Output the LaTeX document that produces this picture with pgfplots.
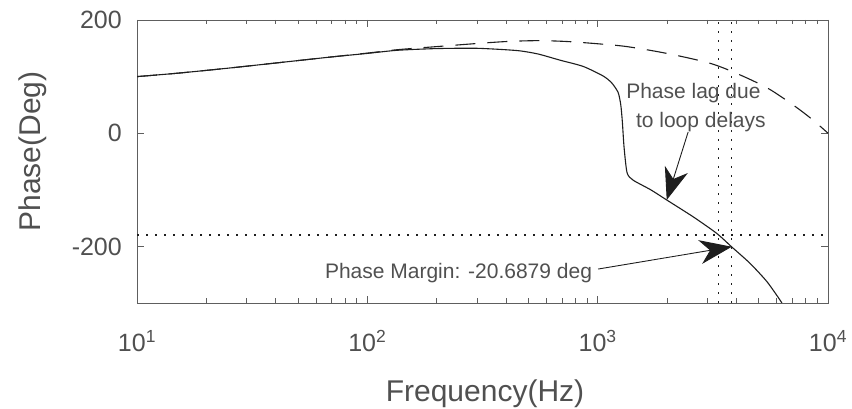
\documentclass[border=0pt]{standalone}
\usepackage{fontspec}
\setmainfont{Liberation Sans}
\usepackage{pgfplots}
\pgfplotsset{compat=1.18}
\usetikzlibrary{arrows.meta}
\definecolor{axgray}{HTML}{5E5E5E}
\definecolor{txtgray}{HTML}{505050}
\definecolor{curve}{HTML}{1E1E1E}

\begin{document}
\begin{tikzpicture}
% fix the page to the reference proportions (1px = 1pt)
\path[use as bounding box] (-137pt,-106pt) rectangle (715pt,303pt);
\begin{axis}[
  at={(0,0)}, anchor=south west,
  scale only axis, width=691pt, height=283pt,
  xmode=log, log basis x=10,
  xmin=10, xmax=10000, ymin=-300, ymax=200,
  xtick={10,100,1000,10000},
  minor xtick={20,30,40,50,60,70,80,90,200,300,400,500,600,700,800,900,2000,3000,4000,5000,6000,7000,8000,9000},
  xticklabels={10\textsuperscript{1},10\textsuperscript{2},10\textsuperscript{3},10\textsuperscript{4}},
  ytick={-200,0,200}, yticklabels={-200,0,200},
  tick align=inside, tick pos=both,
  major tick length=7pt, minor tick length=4.5pt,
  axis line style={axgray, line width=0.9pt},
  tick style={axgray, line width=0.9pt},
  ticklabel style={font=\fontsize{25}{28}\selectfont, text=txtgray},
  xticklabel style={anchor=base, yshift=-49pt},
  yticklabel style={anchor=east, inner sep=0pt, xshift=-15pt},
  xlabel={Frequency(Hz)}, ylabel={Phase(Deg)},
  label style={font=\fontsize{30}{34}\selectfont, text=txtgray},
  xlabel style={at={(axis description cs:0.5036,-0.3498)}, anchor=base},
  ylabel style={at={(axis description cs:-0.1505,0.535)}, anchor=center},
]
% reference lines
\addplot[curve, line width=1.3pt, dash pattern=on 1.5pt off 7.5pt] coordinates {(10,-180) (10000,-180)};
\addplot[curve, line width=1.3pt, dash pattern=on 1.5pt off 7.5pt] coordinates {(3335,-300) (3335,200)};
\addplot[curve, line width=1.3pt, dash pattern=on 1.5pt off 7.5pt] coordinates {(3822,-300) (3822,200)};

% phase without loop delays (dashed)
\addplot[curve, line width=1.1pt, dash pattern=on 20pt off 12pt, smooth] coordinates {
  (10,100) (15,106) (25,115) (40,124) (69,134.5) (100,141.5) (135,147.5)
  (200,153) (300,158.5) (404,162) (550,163.5) (735,162) (1000,158)
  (1339,153) (1995,141) (3076,123.5) (4150,103) (5500,79) (7048,50)
  (8500,25) (10000,0)};

% phase with loop delays (solid)
\addplot[curve, line width=1.1pt, smooth, tension=0.4] coordinates {
  (10,100) (15,106) (25,115) (40,124) (69,134.5) (100,141) (135,146.5)
  (200,149.5) (300,150) (447,146) (550,140) (687,129) (865,118) (1057,101)
  (1150,89) (1227,72) (1260,50) (1280,20) (1302,-25) (1342,-70) (1426,-83)
  (1700,-100) (1995,-118) (2604,-148) (3288,-177) (3822,-201) (4589,-230)
  (5425,-262) (6195,-295) (6400,-305)};

% annotations
\node[anchor=base, font=\fontsize{21}{24}\selectfont, text=txtgray] at (axis cs:2604,61.6) {Phase lag due};
\node[anchor=base, font=\fontsize{21}{24}\selectfont, text=txtgray] at (axis cs:2805,9.7) {to loop delays};
\node[anchor=base west, inner sep=0pt, font=\fontsize{21}{24}\selectfont, text=txtgray] at (axis cs:65.4,-256.4) {Phase Margin: -20.6879 deg};
\draw[curve, line width=0.9pt, -{Stealth[length=32pt,width=24pt,inset=10pt]}] (axis cs:2470,2) -- (axis cs:1995,-118);
\draw[curve, line width=0.9pt, -{Stealth[length=32pt,width=24pt,inset=10pt]}] (axis cs:1004,-240) -- (axis cs:3822,-200.6);
\end{axis}
\end{tikzpicture}
\end{document}
